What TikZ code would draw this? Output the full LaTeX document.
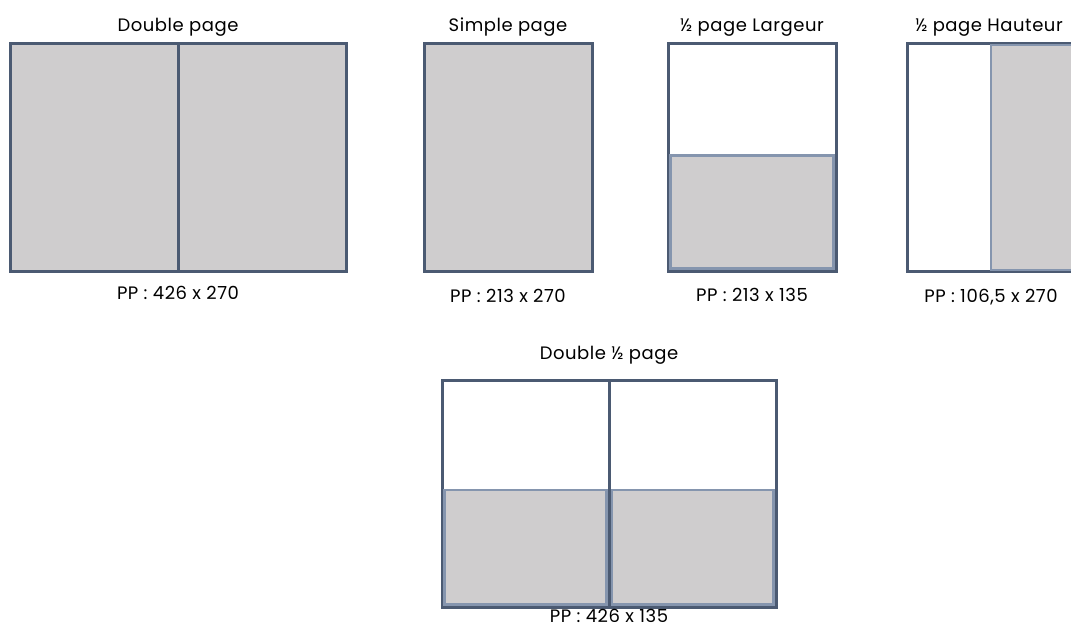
\documentclass[tikz,border=0pt]{standalone}
\usepackage{fontspec}
\setmainfont[LetterSpace=3]{Poppins}
\definecolor{darkb}{HTML}{4B5A72}
\definecolor{lightb}{HTML}{8595AE}
\definecolor{pagefill}{HTML}{CFCDCE}
\begin{document}
\begin{tikzpicture}[x=1pt,y=-1pt,
  outer/.style={draw=darkb,line width=3pt},
  inner/.style={draw=lightb,fill=pagefill,line width=2.5pt},
  divider/.style={draw=darkb,line width=3pt},
  lbl/.style={font=\fontsize{18}{22}\selectfont,text=black,inner sep=0pt,anchor=base}]
\useasboundingbox (0,0) rectangle (1071,631);
\clip (0,0) rectangle (1071,631);
% Double page
\draw[outer,fill=pagefill] (10,44) rectangle (346,271);
\draw[divider] (178,44) -- (178,271);
\node[lbl] (t1) at (178,31.5) {Double page};
\node[lbl] (p1) at (178,299) {PP : 426 x 270};
% Simple page
\draw[outer,fill=pagefill] (424,44) rectangle (592,271);
\node[lbl] (t2) at (508,31.5) {Simple page};
\node[lbl] (p2) at (508,302) {PP : 213 x 270};
% 1/2 page Largeur
\draw[outer,fill=white] (668,44) rectangle (836,271);
\draw[inner] (670.5,155.5) rectangle (833.5,268.5);
\node[lbl] (t3) at (752,31.5) {½ page Largeur};
\node[lbl] (p3) at (752,301) {PP : 213 x 135};
% 1/2 page Hauteur
\draw[outer,fill=white] (907,44) rectangle (1090,271);
\draw[inner] (991,45) rectangle (1095,270);
\node[lbl] (t4) at (989,31.5) {½ page Hauteur};
\node[lbl] (p4) at (991,302) {PP : 106,5 x 270};
% Double 1/2 page
\draw[outer,fill=white] (442,380) rectangle (776,607);
\draw[inner] (444.5,490) rectangle (606.5,604.5);
\draw[inner] (611.5,490) rectangle (773.5,604.5);
\draw[divider] (609,380) -- (609,607);
\node[lbl] (t5) at (609,359) {Double ½ page};
\node[lbl] (p5) at (609,622) {PP : 426 x 135};
\end{tikzpicture}
\end{document}
